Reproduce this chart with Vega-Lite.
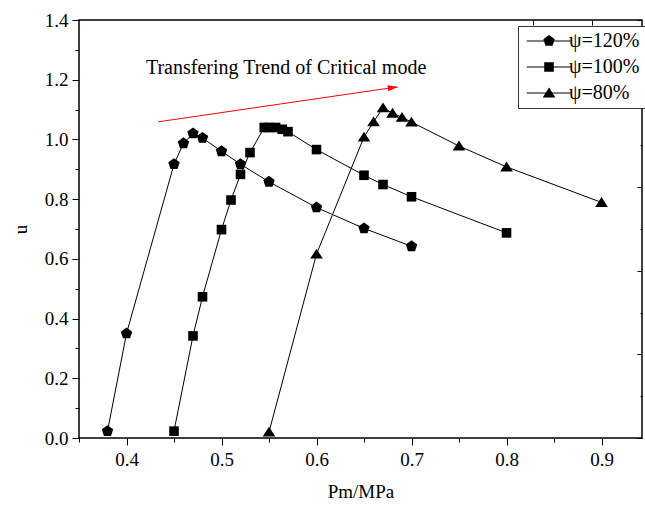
{
  "$schema": "https://vega.github.io/schema/vega-lite/v6.json",
  "width": 563,
  "height": 418,
  "autosize": {"type": "none"},
  "padding": {"left": 79, "top": 20, "right": 3, "bottom": 69},
  "background": "white",
  "config": {
    "font": "Liberation Serif",
    "view": {"stroke": "black", "strokeWidth": 1.5},
    "axis": {"labelFontSize": 19, "titleFontSize": 19, "titleFontWeight": "normal", "labelColor": "black", "titleColor": "black", "tickColor": "black", "tickWidth": 1, "domain": false, "grid": false, "labelFont": "Liberation Serif", "titleFont": "Liberation Serif"},
    "legend": {"labelFont": "Liberation Serif"}
  },
  "datasets": {
    "main": [
      {"s": "ψ=120%", "x": 0.38, "y": 0.023},
      {"s": "ψ=120%", "x": 0.40, "y": 0.35},
      {"s": "ψ=120%", "x": 0.45, "y": 0.917},
      {"s": "ψ=120%", "x": 0.46, "y": 0.987},
      {"s": "ψ=120%", "x": 0.47, "y": 1.02},
      {"s": "ψ=120%", "x": 0.48, "y": 1.005},
      {"s": "ψ=120%", "x": 0.50, "y": 0.96},
      {"s": "ψ=120%", "x": 0.52, "y": 0.917},
      {"s": "ψ=120%", "x": 0.55, "y": 0.858},
      {"s": "ψ=120%", "x": 0.60, "y": 0.772},
      {"s": "ψ=120%", "x": 0.65, "y": 0.702},
      {"s": "ψ=120%", "x": 0.70, "y": 0.642},
      {"s": "ψ=100%", "x": 0.45, "y": 0.023},
      {"s": "ψ=100%", "x": 0.47, "y": 0.342},
      {"s": "ψ=100%", "x": 0.48, "y": 0.473},
      {"s": "ψ=100%", "x": 0.50, "y": 0.698},
      {"s": "ψ=100%", "x": 0.51, "y": 0.797},
      {"s": "ψ=100%", "x": 0.52, "y": 0.883},
      {"s": "ψ=100%", "x": 0.53, "y": 0.956},
      {"s": "ψ=100%", "x": 0.545, "y": 1.04},
      {"s": "ψ=100%", "x": 0.55, "y": 1.04},
      {"s": "ψ=100%", "x": 0.557, "y": 1.04},
      {"s": "ψ=100%", "x": 0.564, "y": 1.034},
      {"s": "ψ=100%", "x": 0.57, "y": 1.026},
      {"s": "ψ=100%", "x": 0.60, "y": 0.966},
      {"s": "ψ=100%", "x": 0.65, "y": 0.88},
      {"s": "ψ=100%", "x": 0.67, "y": 0.849},
      {"s": "ψ=100%", "x": 0.70, "y": 0.808},
      {"s": "ψ=100%", "x": 0.80, "y": 0.687},
      {"s": "ψ=80%", "x": 0.55, "y": 0.02},
      {"s": "ψ=80%", "x": 0.60, "y": 0.616},
      {"s": "ψ=80%", "x": 0.65, "y": 1.008},
      {"s": "ψ=80%", "x": 0.66, "y": 1.059},
      {"s": "ψ=80%", "x": 0.67, "y": 1.106},
      {"s": "ψ=80%", "x": 0.68, "y": 1.088},
      {"s": "ψ=80%", "x": 0.69, "y": 1.074},
      {"s": "ψ=80%", "x": 0.70, "y": 1.058},
      {"s": "ψ=80%", "x": 0.75, "y": 0.978},
      {"s": "ψ=80%", "x": 0.80, "y": 0.908},
      {"s": "ψ=80%", "x": 0.90, "y": 0.789}
    ],
    "note": [{"x": 0.568, "y": 1.239, "label": "Transfering Trend of Critical mode"}],
    "arrow": [{"x": 0.4335, "y": 1.059, "x2": 0.6855, "y2": 1.176}]
  },
  "resolve": {"scale": {"x": "independent", "y": "independent", "shape": "independent"}, "axis": {"x": "independent", "y": "independent"}},
  "layer": [
    {
      "data": {"name": "main"},
      "mark": {"type": "line", "color": "black", "strokeWidth": 1},
      "encoding": {
        "x": {"field": "x", "type": "quantitative", "scale": {"domain": [0.35, 0.9426], "nice": false, "zero": false},
          "axis": {"orient": "bottom", "title": "Pm/MPa", "values": [0.4, 0.5, 0.6, 0.7, 0.8, 0.9], "format": ".1f", "tickSize": 7, "labelPadding": 5, "titlePadding": 13}},
        "y": {"field": "y", "type": "quantitative", "scale": {"domain": [0, 1.4], "nice": false, "zero": false},
          "axis": {"orient": "left", "title": "u", "values": [0, 0.2, 0.4, 0.6, 0.8, 1.0, 1.2, 1.4], "format": ".1f", "tickSize": 7, "labelPadding": 4, "titlePadding": 14}},
        "detail": {"field": "s"},
        "order": {"field": "x"}
      }
    },
    {
      "data": {"name": "main"},
      "mark": {"type": "point", "filled": true, "color": "black", "opacity": 1, "size": 144},
      "encoding": {
        "x": {"field": "x", "type": "quantitative", "scale": {"domain": [0.35, 0.9426], "nice": false, "zero": false}, "axis": null},
        "y": {"field": "y", "type": "quantitative", "scale": {"domain": [0, 1.4], "nice": false, "zero": false}, "axis": null},
        "shape": {"field": "s", "type": "nominal", "legend": null,
          "scale": {"domain": ["ψ=120%", "ψ=100%", "ψ=80%"],
            "range": ["M0,-1L0.951,-0.309L0.588,0.809L-0.588,0.809L-0.951,-0.309Z", "M-0.8,-0.8H0.8V0.8H-0.8Z", "M0,-0.9L1.05,0.75L-1.05,0.75Z"]}}
      }
    },
    {
      "data": {"name": "main"},
      "transform": [{"filter": "false"}],
      "mark": {"type": "point", "opacity": 0},
      "encoding": {
        "x": {"field": "x", "type": "quantitative", "scale": {"domain": [0.35, 0.9426], "nice": false, "zero": false},
          "axis": {"orient": "bottom", "title": null, "labels": false, "values": [0.35, 0.45, 0.55, 0.65, 0.75, 0.85], "tickSize": 4}},
        "y": {"field": "y", "type": "quantitative", "scale": {"domain": [0, 1.4], "nice": false, "zero": false},
          "axis": {"orient": "left", "title": null, "labels": false, "values": [0.1, 0.3, 0.5, 0.7, 0.9, 1.1, 1.3], "tickSize": 4}}
      }
    },
    {
      "data": {"name": "main"},
      "transform": [{"filter": "false"}],
      "mark": {"type": "point", "opacity": 0},
      "encoding": {
        "y": {"field": "y", "type": "quantitative", "scale": {"domain": [0, 5], "nice": false, "zero": false},
          "axis": {"orient": "right", "title": null, "labels": false, "values": [0, 1, 2, 3, 4, 5], "tickSize": -5}}
      }
    },
    {
      "data": {"name": "main"},
      "transform": [{"filter": "false"}],
      "mark": {"type": "point", "opacity": 0},
      "encoding": {
        "y": {"field": "y", "type": "quantitative", "scale": {"domain": [0, 5], "nice": false, "zero": false},
          "axis": {"orient": "right", "title": null, "labels": false, "values": [0.5, 1.5, 2.5, 3.5, 4.5], "tickSize": -2}}
      }
    },
    {
      "data": {"name": "main"},
      "transform": [{"filter": "false"}],
      "mark": {"type": "point", "opacity": 0},
      "encoding": {
        "x": {"field": "x", "type": "quantitative", "scale": {"domain": [0.35, 0.9426], "nice": false, "zero": false},
          "axis": {"orient": "top", "title": null, "labels": false, "values": [0.828, 0.8897], "tickSize": -5}}
      }
    },
    {
      "data": {"name": "note"},
      "mark": {"type": "text", "fontSize": 20, "font": "Liberation Serif", "color": "black", "baseline": "middle", "align": "center"},
      "encoding": {
        "x": {"field": "x", "type": "quantitative", "scale": {"domain": [0.35, 0.9426], "nice": false, "zero": false}, "axis": null},
        "y": {"field": "y", "type": "quantitative", "scale": {"domain": [0, 1.4], "nice": false, "zero": false}, "axis": null},
        "text": {"field": "label"}
      }
    },
    {
      "data": {"name": "arrow"},
      "mark": {"type": "rule", "color": "#ff0000", "strokeWidth": 1},
      "encoding": {
        "x": {"field": "x", "type": "quantitative", "scale": {"domain": [0.35, 0.9426], "nice": false, "zero": false}, "axis": null},
        "y": {"field": "y", "type": "quantitative", "scale": {"domain": [0, 1.4], "nice": false, "zero": false}, "axis": null},
        "x2": {"field": "x2"},
        "y2": {"field": "y2"}
      }
    },
    {
      "data": {"name": "arrow"},
      "mark": {"type": "point", "filled": true, "color": "#ff0000", "opacity": 1, "size": 25, "angle": 351.7, "shape": "M0,0L-4,-1.2L-4,1.2Z"},
      "encoding": {
        "x": {"field": "x2", "type": "quantitative", "scale": {"domain": [0.35, 0.9426], "nice": false, "zero": false}, "axis": null},
        "y": {"field": "y2", "type": "quantitative", "scale": {"domain": [0, 1.4], "nice": false, "zero": false}, "axis": null}
      }
    },
    {
      "data": {"name": "main"},
      "transform": [{"filter": "false"}],
      "mark": {"type": "point", "filled": true, "color": "black", "opacity": 1, "size": 144},
      "encoding": {
        "shape": {"field": "s", "type": "nominal",
          "scale": {"domain": ["ψ=120%", "ψ=100%", "ψ=80%"],
            "range": [
              "M-1.05,-0.09H6.28V0.09H-1.05ZM2.67,-1L3.62,-0.31L3.26,0.81L2.08,0.81L1.72,-0.31Z",
              "M-1.05,-0.09H6.28V0.09H-1.05ZM1.87,-0.8H3.47V0.8H1.87Z",
              "M-1.05,-0.09H6.28V0.09H-1.05ZM2.67,-0.9L3.72,0.75L1.62,0.75Z"]},
          "legend": {"orient": "none", "legendX": 439, "legendY": 6, "title": null, "strokeColor": "#333333", "fillColor": "white", "padding": 5,
            "labelFontSize": 20, "labelColor": "black", "labelFont": "Liberation Serif", "symbolSize": 144, "labelOffset": 26, "rowPadding": 6,
            "symbolFillColor": "black", "symbolOpacity": 1,
            "encode": {"symbols": {"update": {"fill": {"value": "black"}, "opacity": {"value": 1}}}}}
        }
      }
    }
  ]
}
